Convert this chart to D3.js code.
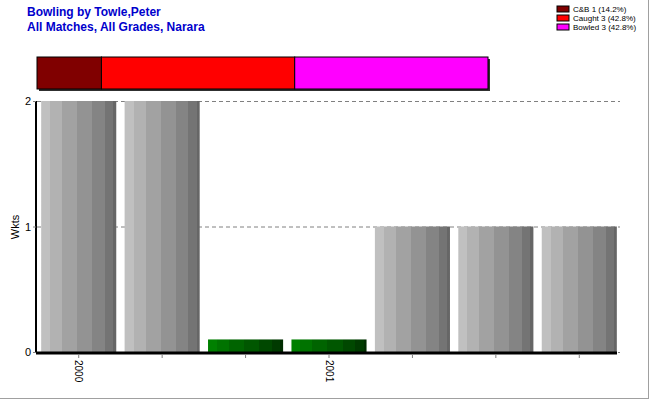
<!DOCTYPE html>
<html><head><meta charset="utf-8">
<script src="https://cdn.jsdelivr.net/npm/d3@7"></script>
<style>body{margin:0;background:#fff}svg{display:block;font-family:Arial,"Liberation Sans",sans-serif}</style>
</head><body>
<svg id="c" width="650" height="400"></svg>
<script>
const categories = ["2000","","","2001","","",""];
const wickets = [2, 2, 0.1, 0.1, 1, 1, 1];
const barKind = ["wk","wk","none","none","wk","wk","wk"];
const yTicks = [0, 1, 2];
const dismissalLabels = ["C&B 1 (14.2%)", "Caught 3 (42.8%)", "Bowled 3 (42.8%)"];
const dismissalCounts = [1, 3, 3];
const dismissalColors = ["#800000", "#ff0000", "#ff00ff"];

const svg = d3.select("#c");
// frame
svg.append("line").attr("x1",0).attr("x2",649).attr("y1",398.5).attr("y2",398.5).attr("stroke","#a0a0a0");
svg.append("line").attr("x1",648.5).attr("x2",648.5).attr("y1",0).attr("y2",399).attr("stroke","#a0a0a0");

// title
svg.append("text").attr("x",27).attr("y",16).attr("fill","#0000cc").attr("font-weight","bold").attr("font-size",12).text("Bowling by Towle,Peter");
svg.append("text").attr("x",27).attr("y",31).attr("fill","#0000cc").attr("font-weight","bold").attr("font-size",12).text("All Matches, All Grades, Narara");

// gradients
const defs = svg.append("defs");
function stripes(id, colors){
  const stopsPos = [0, .12, .28, .48, .68, .85, .96, 1];
  const g = defs.append("linearGradient").attr("id",id).attr("x1","0%").attr("x2","100%").attr("y1","0%").attr("y2","0%");
  colors.forEach((c,i)=>{
    g.append("stop").attr("offset",stopsPos[i]).attr("stop-color",c);
    g.append("stop").attr("offset",stopsPos[i+1]).attr("stop-color",c);
  });
}
stripes("gGray", ["#c0c0c0","#b2b2b2","#a2a2a2","#939393","#848484","#747474","#666666"]);
stripes("gGreen", ["#008000","#007300","#006400","#005700","#004800","#003a00","#002c00"]);

const x = d3.scaleBand().domain(d3.range(categories.length)).range([37, 621]).paddingInner(0.1).paddingOuter(0.05);
const y = d3.scaleLinear().domain([0, 2]).range([352, 101]);

// gridlines
svg.append("g").selectAll("line").data(yTicks).join("line")
  .attr("x1",37).attr("x2",620).attr("y1",d=>y(d)+0.5).attr("y2",d=>y(d)+0.5)
  .attr("stroke","#808080").attr("stroke-dasharray","4,3");

// bars
svg.append("g").selectAll("rect").data(wickets).join("rect")
  .attr("x",(d,i)=>x(i)).attr("width",x.bandwidth())
  .attr("y",d=>y(d)).attr("height",d=>y(0)-y(d))
  .attr("fill",(d,i)=>barKind[i]==="wk"?"url(#gGray)":"url(#gGreen)");

// y axis
const ya = svg.append("g").attr("transform","translate(36,0)")
  .call(d3.axisLeft(y).tickValues(yTicks).tickFormat(d3.format("d")).tickSize(3).tickPadding(2));
ya.select(".domain").attr("stroke-width",2).attr("d","M0,"+y(2)+"V"+(y(0)+1));
ya.selectAll("text").attr("font-size",11).attr("font-family","Arial,'Liberation Sans',sans-serif").attr("fill","#000");
ya.selectAll(".tick line").attr("stroke","#808080");

// x axis
const xa = svg.append("g").attr("transform","translate(0,353)")
  .call(d3.axisBottom(x).tickFormat(i=>categories[i]).tickSize(4).tickPadding(2));
xa.select(".domain").attr("stroke-width",3).attr("d","M36,0H617");
xa.selectAll(".tick line").attr("stroke","#808080").attr("transform","translate(0,1)");
xa.selectAll("text").attr("font-size",10).attr("font-family","Arial,'Liberation Sans',sans-serif").attr("fill","#000")
  .attr("text-anchor","start").attr("dy","0.35em")
  .attr("transform","translate(0,7) rotate(90)").attr("x",0).attr("y",0);

// y label
svg.append("text").attr("transform","translate(19,227) rotate(-90)").attr("text-anchor","middle")
  .attr("font-size",11).attr("fill","#000").text("Wkts");

// stacked dismissal bar
const total = d3.sum(dismissalCounts);
const sx = d3.scaleLinear().domain([0,total]).range([37, 488]);
const cum = d3.cumsum(dismissalCounts);
const sb = svg.append("g");
sb.append("rect").attr("x",sx(0)+2).attr("y",59).attr("width",sx(total)-sx(0)).attr("height",32).attr("fill","#303030");
sb.selectAll("rect.s").data(dismissalCounts).join("rect").attr("class","s")
  .attr("x",(d,i)=>sx(cum[i]-d)).attr("width",d=>sx(d)-sx(0))
  .attr("y",57).attr("height",32).attr("fill",(d,i)=>dismissalColors[i])
  .attr("stroke","#000").attr("stroke-width",1);

// legend
const lg = svg.append("g").selectAll("g").data(dismissalLabels).join("g")
  .attr("transform",(d,i)=>`translate(557,${6+i*9})`);
lg.append("rect").attr("width",12).attr("height",6).attr("fill",(d,i)=>dismissalColors[i]).attr("stroke","#000").attr("stroke-width",1);
lg.append("text").attr("x",16).attr("y",6).attr("font-size",8).attr("fill","#000").text(d=>d);
</script>
</body></html>
